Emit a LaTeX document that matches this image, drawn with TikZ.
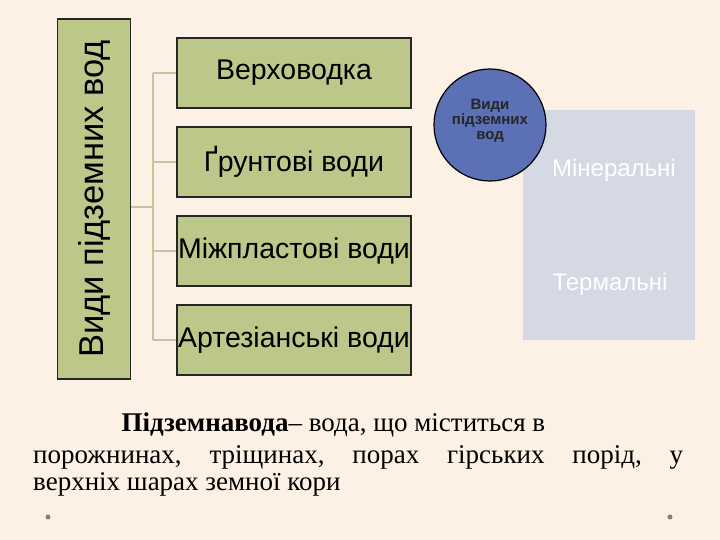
\documentclass[tikz,border=0pt]{standalone}
\usepackage{fontspec}
\setmainfont{Liberation Serif}
\newfontfamily\arialf{Liberation Sans}
\definecolor{bg}{HTML}{FDF0E4}
\definecolor{olive}{HTML}{BCC88A}
\definecolor{lnk}{HTML}{C9C4A0}
\definecolor{circ}{HTML}{5B70B5}
\definecolor{grayb}{HTML}{D5D9E4}
\begin{document}
\begin{tikzpicture}[x=1pt,y=-1pt,
  gbox/.style={draw=black!85,line width=1.2pt,fill=olive,minimum width=234pt,minimum height=70pt,font=\arialf\fontsize{28.5}{30}\selectfont,inner sep=0pt},
  lnkline/.style={draw=lnk,line width=1.3pt},
  ptext/.style={font=\fontsize{27}{29}\selectfont}]
\fill[bg] (0,0) rectangle (720,540);
\useasboundingbox (0,0) rectangle (720,540);
\node[draw=black!85,line width=1.2pt,fill=olive,minimum width=360pt,minimum height=73pt,rotate=90,inner sep=0pt,font=\arialf\fontsize{34.5}{38}\selectfont] (v) at (94,199) {Види підземних вод};
\node[gbox] (a) at (294,73) {Верховодка};
\node[gbox] (b) at (294,162) {Ґрунтові води};
\node[gbox] (c) at (294,251) {Міжпластові води};
\node[gbox] (d) at (294,340) {Артезіанські води};
\coordinate (j) at (153,207);
\draw[lnkline] (131,207) -- (j);
\draw[lnkline] (153,73) -- (153,340);
\foreach \n in {a,b,c,d} \draw[lnkline] (153,0 |- \n.west) -- (\n.west);
\node[fill=grayb,minimum width=172pt,minimum height=229pt,inner sep=0pt] (g) at (609,225) {};
\node[text=white,font=\arialf\fontsize{24}{26}\selectfont] (m) at (614,170) {Мінеральні};
\node[text=white,font=\arialf\fontsize{24}{26}\selectfont] (t) at (610,284) {Термальні};
\node[circle,draw=black,line width=1.2pt,fill=circ,minimum size=112pt,inner sep=0pt] (k) at (490,125) {};
\node[align=center,font=\arialf\bfseries\fontsize{15}{15}\selectfont,text=black!85] (kt) at (490,121) {Види\\підземних\\вод};
\node[anchor=west,ptext] (p1) at (118,425) {\textbf{Підземнавода}– вода, що міститься в};
\node[anchor=west,ptext,inner sep=0pt] (p2) at (33,457) {\makebox[650pt]{порожнинах,\hfill тріщинах,\hfill порах\hfill гірських\hfill порід,\hfill у}};
\node[anchor=west,ptext,inner sep=0pt] (p3) at (33,484) {верхніх шарах земної кори};
\fill[gray] (48,517) circle (2.5);
\fill[gray] (670,517) circle (2.5);
\end{tikzpicture}
\end{document}
